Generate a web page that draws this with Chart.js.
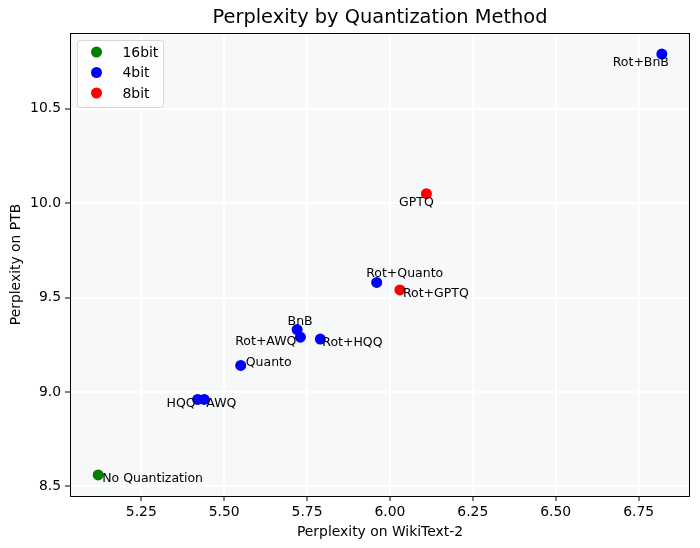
<!DOCTYPE html>
<html>
<head>
<meta charset="utf-8">
<script src="https://cdn.jsdelivr.net/npm/chart.js@4.4.1/dist/chart.umd.min.js"></script>
<style>
  body { margin: 0; background: #fff; }
  canvas { display: block; }
</style>
</head>
<body>
<canvas id="myChart" width="700" height="548"></canvas>
<script>
// data
const methods  = ['No Quantization', 'HQQ', 'AWQ', 'Quanto', 'BnB', 'Rot+AWQ', 'Rot+HQQ', 'Rot+Quanto', 'Rot+GPTQ', 'GPTQ', 'Rot+BnB'];
const wikitext = [5.12, 5.42, 5.44, 5.55, 5.72, 5.73, 5.79, 5.96, 6.03, 6.11, 6.82];
const ptb      = [8.56, 8.96, 8.96, 9.14, 9.33, 9.29, 9.28, 9.58, 9.54, 10.05, 10.79];
const bits     = ['16bit', '4bit', '4bit', '4bit', '4bit', '4bit', '4bit', '4bit', '8bit', '8bit', '4bit'];

const groups = ['16bit', '4bit', '8bit'];
const xTicks = [5.25, 5.50, 5.75, 6.00, 6.25, 6.50, 6.75];
const yTicks = [8.5, 9.0, 9.5, 10.0, 10.5];
const chartTitle = 'Perplexity by Quantization Method';

// styling
const groupColors = { '16bit': '#008000', '4bit': '#0000ff', '8bit': '#ff0000' };
// label placement per method: [dx, dy, align]
const labelPlace = {
    'No Quantization': [4, 4, 'left'],
    'HQQ': [-2, 4, 'right'],
    'AWQ': [2, 4, 'left'],
    'Quanto': [5, -3, 'left'],
    'BnB': [3, -8, 'center'],
    'Rot+AWQ': [-4, 5, 'right'],
    'Rot+HQQ': [2, 4, 'left'],
    'Rot+Quanto': [28, -9, 'center'],
    'Rot+GPTQ': [3, 4, 'left'],
    'GPTQ': [-10, 9, 'center'],
    'Rot+BnB': [-21, 9, 'center']
};

const FONT = 'DejaVu Sans';

function pad(arr) {
    const lo = Math.min(...arr), hi = Math.max(...arr);
    const m = (hi - lo) * 0.05;
    return [lo - m, hi + m];
}
const [xMin, xMax] = pad(wikitext);
const [yMin, yMax] = pad(ptb);

const datasets = groups.map(g => ({
    label: g,
    data: methods.map((m, i) => ({ x: wikitext[i], y: ptb[i], name: m }))
                 .filter((p, i) => bits[i] === g),
    backgroundColor: groupColors[g],
    borderWidth: 0,
    pointRadius: 5.5,
    pointHoverRadius: 5.5
}));

const plotDecor = {
    id: 'plotDecor',
    beforeDraw(chart) {
        const { ctx, chartArea: a } = chart;
        ctx.save();
        ctx.fillStyle = '#f7f8fa';
        ctx.fillRect(a.left, a.top, a.right - a.left, a.bottom - a.top);
        ctx.restore();
    },
    afterDatasetsDraw(chart) {
        const { ctx, scales } = chart;
        ctx.save();
        ctx.font = '12.5px "' + FONT + '"';
        ctx.fillStyle = '#000';
        ctx.textBaseline = 'middle';
        methods.forEach((m, i) => {
            const [dx, dy, align] = labelPlace[m];
            ctx.textAlign = align;
            ctx.fillText(m, scales.x.getPixelForValue(wikitext[i]) + dx,
                            scales.y.getPixelForValue(ptb[i]) + dy);
        });
        ctx.restore();
    },
    afterDraw(chart) {
        const { ctx, chartArea: a } = chart;
        ctx.save();
        // title, centred over the plot area like matplotlib
        ctx.font = '19.4px "' + FONT + '"';
        ctx.fillStyle = '#000';
        ctx.textAlign = 'center';
        ctx.textBaseline = 'middle';
        ctx.fillText(chartTitle, (a.left + a.right) / 2, 18);
        // frame
        ctx.strokeStyle = '#000';
        ctx.lineWidth = 1;
        ctx.strokeRect(Math.round(a.left) + 0.5, Math.round(a.top) + 0.5,
                       Math.round(a.right - a.left) - 1, Math.round(a.bottom - a.top));
        // legend box
        const bx = a.left + 7.5, by = a.top + 7.5, bw = 86, bh = 67;
        ctx.fillStyle = 'rgba(255,255,255,0.8)';
        ctx.strokeStyle = '#d6d6d6';
        ctx.beginPath();
        ctx.roundRect(bx, by, bw, bh, 3);
        ctx.fill();
        ctx.stroke();
        ctx.font = '13.9px "' + FONT + '"';
        ctx.textBaseline = 'middle';
        ctx.textAlign = 'left';
        groups.forEach((g, k) => {
            const cy = by + 11.5 + k * 20.5;
            ctx.fillStyle = groupColors[g];
            ctx.beginPath();
            ctx.arc(bx + 19, cy, 5.5, 0, Math.PI * 2);
            ctx.fill();
            ctx.fillStyle = '#000';
            ctx.fillText(g, bx + 45, cy + 1);
        });
        ctx.restore();
    }
};

document.addEventListener('DOMContentLoaded', () => {
    const ctx = document.getElementById('myChart').getContext('2d');
    new Chart(ctx, {
        type: 'scatter',
        data: { datasets },
        options: {
            responsive: false,
            animation: false,
            devicePixelRatio: 1,
            layout: { padding: { top: 33, right: 10, left: 0, bottom: 0 } },
            scales: {
                x: {
                    type: 'linear',
                    min: xMin,
                    max: xMax,
                    afterBuildTicks: s => { s.ticks = xTicks.map(v => ({ value: v })); },
                    afterFit: s => { s.height = 52; },
                    grid: { color: '#ffffff', lineWidth: 2, tickColor: '#000', tickWidth: 1, tickLength: 5 },
                    border: { display: false },
                    ticks: {
                        color: '#000',
                        padding: 3,
                        font: { family: FONT, size: 13.9 },
                        callback: v => v.toFixed(2),
                        maxRotation: 0
                    },
                    title: {
                        display: true,
                        text: 'Perplexity on WikiText-2',
                        color: '#000',
                        font: { family: FONT, size: 13.9 },
                        padding: { top: 0, bottom: 7.5 }
                    }
                },
                y: {
                    type: 'linear',
                    min: yMin,
                    max: yMax,
                    afterBuildTicks: s => { s.ticks = yTicks.map(v => ({ value: v })); },
                    afterFit: s => { s.width = 70; },
                    grid: { color: '#ffffff', lineWidth: 2, tickColor: '#000', tickWidth: 1, tickLength: 5 },
                    border: { display: false },
                    ticks: {
                        color: '#000',
                        padding: 4,
                        font: { family: FONT, size: 13.9 },
                        callback: v => v.toFixed(1)
                    },
                    title: {
                        display: true,
                        text: 'Perplexity on PTB',
                        color: '#000',
                        font: { family: FONT, size: 13.9 },
                        padding: { top: 8.5, bottom: 0 }
                    }
                }
            },
            plugins: {
                legend: { display: false },
                tooltip: { enabled: false },
                title: { display: false }
            }
        },
        plugins: [plotDecor]
    });
});
</script>
</body>
</html>
